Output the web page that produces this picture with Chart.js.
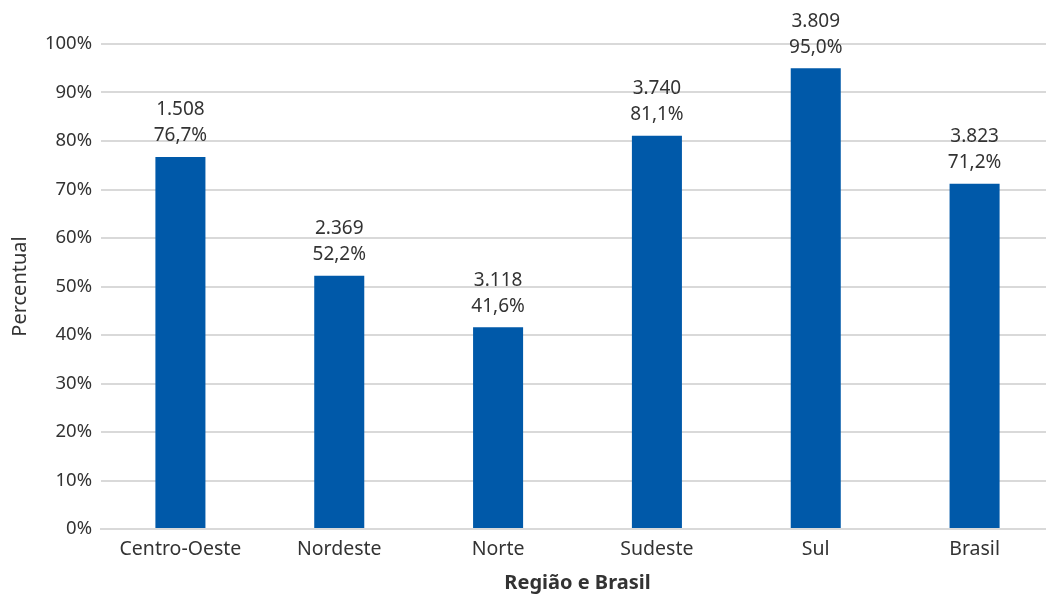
<!DOCTYPE html>
<html>
<head>
<meta charset="utf-8">
<script src="https://cdn.jsdelivr.net/npm/chart.js@4/dist/chart.umd.min.js"></script>
<style>
  html, body { margin: 0; padding: 0; background: #fff; overflow: hidden; }
  #wrap { position: absolute; left: 0; top: 0; width: 1054px; height: 597px; }
</style>
</head>
<body>
<div id="wrap"><canvas id="c" width="1054" height="597"></canvas></div>
<script>
const categories = ["Centro-Oeste", "Nordeste", "Norte", "Sudeste", "Sul", "Brasil"];
const percentValues = [76.7, 52.2, 41.6, 81.1, 95.0, 71.2];
const countValues = [1508, 2369, 3118, 3740, 3809, 3823];
const yTickLabels = ["0%", "10%", "20%", "30%", "40%", "50%", "60%", "70%", "80%", "90%", "100%"];

const FONT = "'Noto Sans', 'Open Sans', sans-serif";
const TEXT = "#333333";

function fmtCount(n) {
  return n.toLocaleString('pt-BR');
}
function fmtPct(v) {
  return v.toFixed(1).replace('.', ',') + '%';
}

const labelPlugin = {
  id: 'barLabels',
  afterDatasetsDraw(chart) {
    const ctx = chart.ctx;
    const meta = chart.getDatasetMeta(0);
    ctx.save();
    ctx.font = "19px " + FONT;
    ctx.fillStyle = TEXT;
    ctx.textAlign = 'center';
    ctx.textBaseline = 'middle';
    meta.data.forEach((bar, i) => {
      ctx.fillText(fmtPct(percentValues[i]), bar.x, bar.y - 21);
      ctx.fillText(fmtCount(countValues[i]), bar.x, bar.y - 47);
    });
    ctx.restore();
  }
};

new Chart(document.getElementById('c'), {
  type: 'bar',
  data: {
    labels: categories,
    datasets: [{
      data: percentValues,
      backgroundColor: '#0059A9',
      borderWidth: 0,
      barPercentage: 1,
      categoryPercentage: 0.315
    }]
  },
  options: {
    responsive: false,
    animation: false,
    devicePixelRatio: 1,
    layout: { padding: { top: 44, right: 0, bottom: 0, left: 0 } },
    plugins: { legend: { display: false }, tooltip: { enabled: false } },
    scales: {
      x: {
        grid: { display: false, drawTicks: false },
        border: { display: true, color: '#d9d9d9', width: 2 },
        ticks: { color: TEXT, font: { family: FONT, size: 19.5 }, padding: 9, maxRotation: 0 },
        title: { display: true, text: 'Região e Brasil', color: TEXT, font: { family: FONT, size: 20, weight: 'bold' }, padding: { top: 0, bottom: 2 } },
        afterFit(scale) { scale.height = 68; }
      },
      y: {
        min: 0, max: 100,
        grid: { color: '#d9d9d9', lineWidth: 2, drawTicks: false },
        border: { display: false },
        ticks: {
          stepSize: 10,
          color: TEXT,
          font: { family: FONT, size: 18.5 },
          padding: 9,
          callback: (v) => yTickLabels[Math.round(v / 10)]
        },
        title: { display: true, text: 'Percentual', color: TEXT, font: { family: FONT, size: 20 }, padding: { top: 8, bottom: 0 } },
        afterFit(scale) { scale.width = 101; }
      }
    }
  },
  plugins: [labelPlugin]
});
</script>
</body>
</html>
